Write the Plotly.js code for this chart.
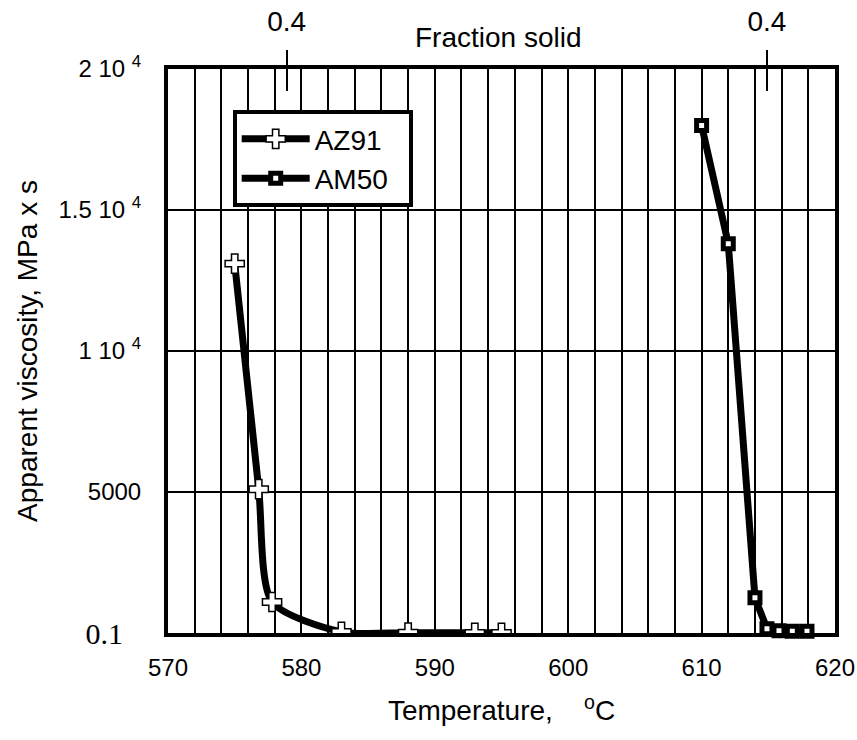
<!DOCTYPE html>
<html>
<head>
<meta charset="utf-8">
<script src="https://cdn.plot.ly/plotly-3.0.1.min.js"></script>
<style>
  html, body { margin: 0; padding: 0; background: #ffffff; }
  #chart { width: 857px; height: 740px; }
</style>
</head>
<body>
<div id="chart"></div>
<script>
// Apparent viscosity vs temperature for two magnesium alloys
const az91Temp = [575, 576.8, 577.8, 583, 588, 593, 595];
const az91Visc = [13100, 5100, 1100, 40, 10, 5, 5];

const am50Temp = [610, 612, 614, 614.9, 615.8, 616.8, 617.9];
const am50Visc = [18000, 13800, 1250, 150, 80, 60, 60];

// Bottom axis ticks
const tempTicks = [570, 580, 590, 600, 610, 620];
const tempTickText = ['570', '580', '590', '600', '610', '620'];

// Left axis ticks (the zero line carries its own serif label)
const viscTicks = [5000, 10000, 15000, 20000];
const viscTickText = ['5000', '1 10 <sup>4</sup>', '1.5 10 <sup>4</sup>', '2 10 <sup>4</sup>'];
const baseTick = [0];
const baseTickText = ['0.1'];

// Fraction-solid markers on the top axis
const fsTemps = [578.9, 614.9];
const fsText = ['0.4', '0.4'];

const SANS = 'Liberation Sans, Arial, sans-serif';
const SERIF = 'Liberation Serif, Times New Roman, Times, serif';

const traces = [
  {
    x: az91Temp, y: az91Visc, name: 'AZ91&nbsp;&nbsp;',
    type: 'scatter', mode: 'lines+markers',
    line: { color: '#000', width: 7, shape: 'spline', smoothing: 0.7 },
    marker: { symbol: 'cross', size: 16, color: '#fff', line: { color: '#000', width: 1.5 } },
    cliponaxis: true
  },
  {
    x: am50Temp, y: am50Visc, name: 'AM50&nbsp;&nbsp;',
    type: 'scatter', mode: 'lines+markers',
    line: { color: '#000', width: 7 },
    marker: { symbol: 'square', size: 10, color: '#fff', line: { color: '#000', width: 5 } },
    cliponaxis: false
  },
  // carriers for the top fraction-solid axes and the serif base label
  { x: fsTemps, y: [null, null], xaxis: 'x2', yaxis: 'y', type: 'scatter', mode: 'markers',
    showlegend: false, hoverinfo: 'skip' },
  { x: fsTemps, y: [null, null], xaxis: 'x3', yaxis: 'y', type: 'scatter', mode: 'markers',
    showlegend: false, hoverinfo: 'skip' },
  { x: [null], y: baseTick, xaxis: 'x', yaxis: 'y2', type: 'scatter', mode: 'markers',
    showlegend: false, hoverinfo: 'skip' }
];

const layout = {
  width: 857, height: 740,
  margin: { l: 168, r: 22, t: 69, b: 107 },
  paper_bgcolor: '#fff', plot_bgcolor: '#fff',
  font: { family: SANS, color: '#000', size: 24 },
  showlegend: true,
  legend: {
    x: 0.097, y: 0.927, xanchor: 'left', yanchor: 'top',
    bgcolor: '#fff', bordercolor: '#000', borderwidth: 4,
    font: { family: SANS, size: 28, color: '#000' },
    itemwidth: 68
  },
  xaxis: {
    range: [570, 620],
    tickmode: 'array', tickvals: tempTicks, ticktext: tempTickText,
    ticks: '', ticklabelstandoff: 10,
    tickfont: { family: SANS, size: 24 },
    showgrid: true, gridcolor: '#000', gridwidth: 2,
    minor: { dtick: 2, tick0: 570, showgrid: true, gridcolor: '#000', gridwidth: 2, ticks: '' },
    showline: true, linecolor: '#000', linewidth: 4, mirror: true,
    zeroline: false,
    title: { text: 'Temperature,&nbsp;&nbsp;&nbsp; <sup>o</sup>C', font: { family: SANS, size: 28 }, standoff: 22 }
  },
  xaxis2: {
    overlaying: 'x', side: 'top', anchor: 'y',
    range: [570, 620],
    tickmode: 'array', tickvals: fsTemps, ticktext: fsText,
    ticks: 'outside', ticklen: 18, tickwidth: 2, tickcolor: '#000',
    ticklabelstandoff: 8,
    tickfont: { family: SANS, size: 28 },
    showgrid: false, showline: false, zeroline: false
  },
  xaxis3: {
    overlaying: 'x', side: 'top', anchor: 'y',
    range: [570, 620],
    tickmode: 'array', tickvals: fsTemps,
    ticks: 'inside', ticklen: 22, tickwidth: 2, tickcolor: '#000',
    showticklabels: false,
    showgrid: false, showline: false, zeroline: false
  },
  yaxis: {
    range: [0, 20000],
    tickmode: 'array', tickvals: viscTicks, ticktext: viscTickText,
    ticks: '', ticklabelstandoff: 18,
    tickfont: { family: SANS, size: 24 },
    showgrid: true, gridcolor: '#000', gridwidth: 2,
    showline: true, linecolor: '#000', linewidth: 4, mirror: true,
    zeroline: false,
    title: { text: 'Apparent viscosity, MPa x s', font: { family: SANS, size: 28 }, standoff: 14 }
  },
  yaxis2: {
    overlaying: 'y', side: 'left', anchor: 'x',
    range: [0, 20000],
    tickmode: 'array', tickvals: baseTick, ticktext: baseTickText,
    ticks: '', ticklabelstandoff: 44,
    tickfont: { family: SERIF, size: 30 },
    showgrid: false, showline: false, zeroline: false
  },
  annotations: [
    {
      text: 'Fraction solid', xref: 'paper', yref: 'paper',
      x: 0.495, y: 1, xanchor: 'center', yanchor: 'bottom', yshift: 14,
      showarrow: false, font: { family: SANS, size: 28, color: '#000' }
    }
  ]
};

Plotly.newPlot('chart', traces, layout, { displayModeBar: false, staticPlot: true });
</script>
</body>
</html>
